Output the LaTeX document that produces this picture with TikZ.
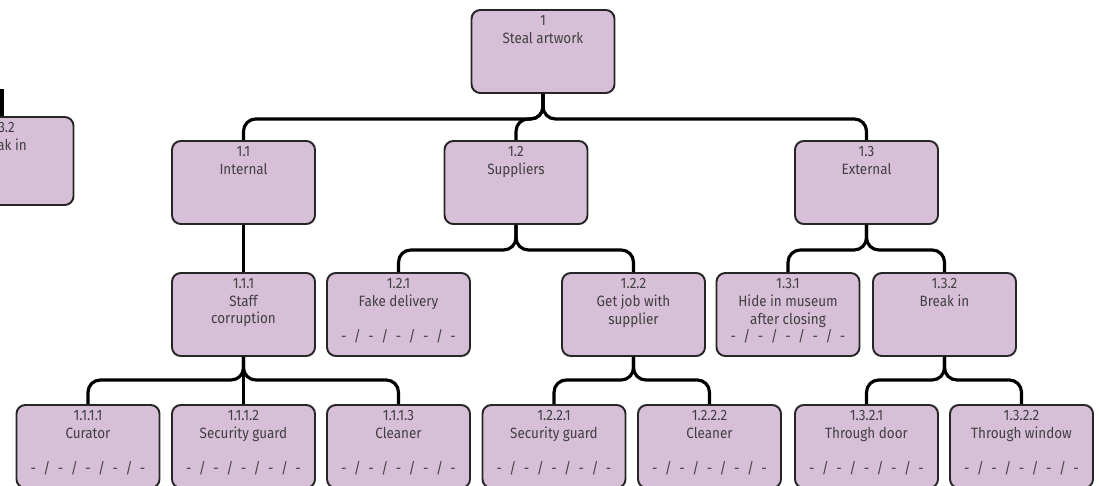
\documentclass[tikz,border=0pt]{standalone}
\usepackage{fontspec}
\setmainfont{Fira Sans}[FakeStretch=0.9]
\definecolor{boxfill}{RGB}{216,191,216}
\definecolor{boxtext}{RGB}{64,64,64}
\newcommand{\blanks}{-\enspace/\enspace-\enspace/\enspace-\enspace/\enspace-\enspace/\enspace-}

\begin{document}
\begin{tikzpicture}[
    box/.style={draw=black!85, line width=1.1pt, fill=boxfill, rounded corners=5pt,
                minimum width=2.86cm, minimum height=1.66cm},
    lbl/.style={anchor=north, align=center, inner sep=2pt, yshift=-1.6pt, text=boxtext,
                font=\fontsize{8.5}{10}\selectfont},
    conn/.style={line width=1.8pt, rounded corners=7pt}]
  \useasboundingbox (0,0) rectangle (21.98,-9.70);

  % cut-off box on the left edge
  \coordinate (fragin) at (0.04,-1.78);
  \node[box, minimum height=1.76cm] (frag) at (0.04,-3.22) {};
  \node[lbl] (tfrag) at (frag.north) {1.3.2\\Break in};

  % goal
  \node[box] (n1) at (10.86,-1.03) {};
  \node[lbl] (t1) at (n1.north) {1\\Steal artwork};

  % first level
  \node[box] (n11) at (4.87,-3.65) {};
  \node[lbl] (t11) at (n11.north) {1.1\\Internal};
  \node[box] (n12) at (10.32,-3.65) {};
  \node[lbl] (t12) at (n12.north) {1.2\\Suppliers};
  \node[box] (n13) at (17.33,-3.65) {};
  \node[lbl] (t13) at (n13.north) {1.3\\External};

  % second level
  \node[box] (n111) at (4.87,-6.29) {};
  \node[lbl] (t111) at (n111.north) {1.1.1\\Staff\\corruption};
  \node[box] (n121) at (7.97,-6.29) {};
  \node[lbl] (t121) at (n121.north) {1.2.1\\Fake delivery\\[10pt]\blanks};
  \node[box] (n122) at (12.67,-6.29) {};
  \node[lbl] (t122) at (n122.north) {1.2.2\\Get job with\\supplier};
  \node[box] (n131) at (15.76,-6.29) {};
  \node[lbl] (t131) at (n131.north) {1.3.1\\Hide in museum\\after closing\\\blanks};
  \node[box] (n132) at (18.89,-6.29) {};
  \node[lbl] (t132) at (n132.north) {1.3.2\\Break in};

  % leaves
  \node[box] (n1111) at (1.76,-8.93) {};
  \node[lbl] (t1111) at (n1111.north) {1.1.1.1\\Curator\\[10pt]\blanks};
  \node[box] (n1112) at (4.87,-8.93) {};
  \node[lbl] (t1112) at (n1112.north) {1.1.1.2\\Security guard\\[10pt]\blanks};
  \node[box] (n1113) at (7.97,-8.93) {};
  \node[lbl] (t1113) at (n1113.north) {1.1.1.3\\Cleaner\\[10pt]\blanks};
  \node[box] (n1221) at (11.08,-8.93) {};
  \node[lbl] (t1221) at (n1221.north) {1.2.2.1\\Security guard\\[10pt]\blanks};
  \node[box] (n1222) at (14.19,-8.93) {};
  \node[lbl] (t1222) at (n1222.north) {1.2.2.2\\Cleaner\\[10pt]\blanks};
  \node[box] (n1321) at (17.33,-8.93) {};
  \node[lbl] (t1321) at (n1321.north) {1.3.2.1\\Through door\\[10pt]\blanks};
  \node[box] (n1322) at (20.43,-8.93) {};
  \node[lbl] (t1322) at (n1322.north) {1.3.2.2\\Through window\\[10pt]\blanks};

  % connectors
  \draw[conn] (fragin) -- (frag.north);
  \draw[conn] (n1.south) -- ++(0,-0.5) -| (n11.north);
  \draw[conn] (n1.south) -- ++(0,-0.5) -| (n12.north);
  \draw[conn] (n1.south) -- ++(0,-0.5) -| (n13.north);
  \draw[conn] (n11.south) -- (n111.north);
  \draw[conn] (n12.south) -- ++(0,-0.5) -| (n121.north);
  \draw[conn] (n12.south) -- ++(0,-0.5) -| (n122.north);
  \draw[conn] (n13.south) -- ++(0,-0.5) -| (n131.north);
  \draw[conn] (n13.south) -- ++(0,-0.5) -| (n132.north);
  \draw[conn] (n111.south) -- ++(0,-0.46) -| (n1111.north);
  \draw[conn] (n111.south) -- (n1112.north);
  \draw[conn] (n111.south) -- ++(0,-0.46) -| (n1113.north);
  \draw[conn] (n122.south) -- ++(0,-0.46) -| (n1221.north);
  \draw[conn] (n122.south) -- ++(0,-0.46) -| (n1222.north);
  \draw[conn] (n132.south) -- ++(0,-0.46) -| (n1321.north);
  \draw[conn] (n132.south) -- ++(0,-0.46) -| (n1322.north);
\end{tikzpicture}
\end{document}
